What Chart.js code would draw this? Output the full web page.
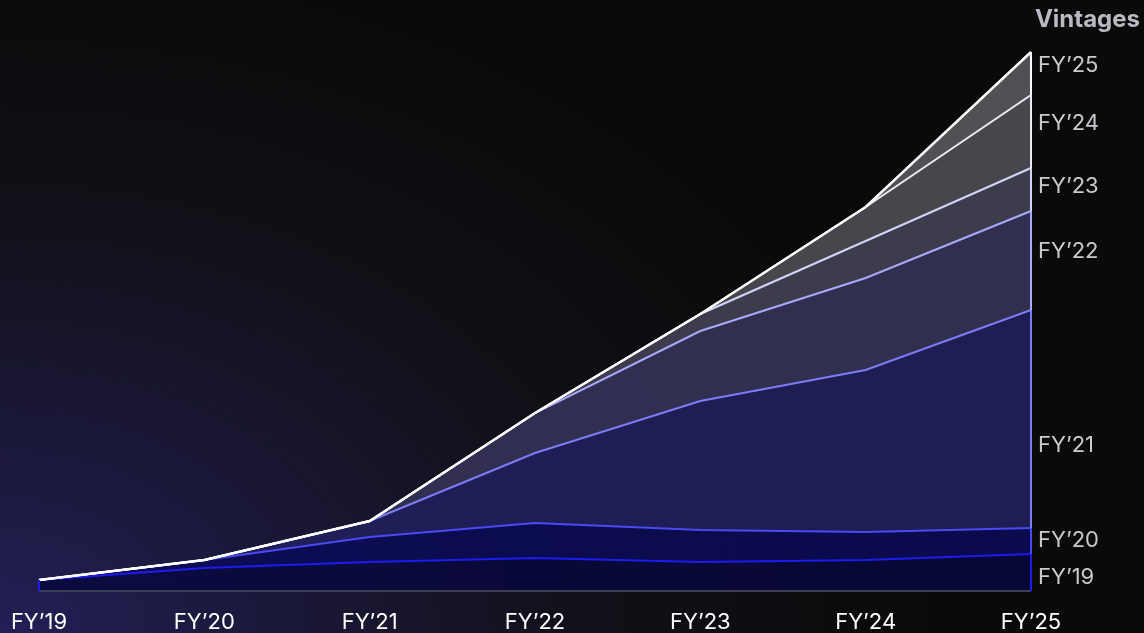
<!DOCTYPE html>
<html>
<head>
<meta charset="utf-8">
<script src="https://cdn.jsdelivr.net/npm/chart.js@4.4.1/dist/chart.umd.min.js"></script>
<style>
  html, body { margin: 0; padding: 0; width: 1144px; height: 633px; overflow: hidden; background: #0a0a0a; }
  body {
    background:
      radial-gradient(ellipse 950px 680px at 0% 100%, #231f56 0%, #1a1838 30%, #111018 62%, #0a0a0a 100%);
  }
  #wrap { position: relative; width: 1144px; height: 633px; }
</style>
</head>
<body>
<div id="wrap"><canvas id="c" width="1144" height="633"></canvas></div>
<script>
// Fiscal years on the x axis
const years = ["FY’19", "FY’20", "FY’21", "FY’22", "FY’23", "FY’24", "FY’25"];

// Revenue contributed by each customer vintage, per fiscal year
const vintageFY19 = [1.1, 2.3, 2.9, 3.3, 2.9, 3.1, 3.7];
const vintageFY20 = [0, 0.8, 2.5, 3.5, 3.2, 2.8, 2.6];
const vintageFY21 = [0, 0, 1.6, 7.0, 12.9, 16.2, 21.8];
const vintageFY22 = [0, 0, 0, 4.0, 7.0, 9.2, 9.9];
const vintageFY23 = [0, 0, 0, 0, 1.7, 3.7, 4.3];
const vintageFY24 = [0, 0, 0, 0, 0, 3.4, 7.3];
const vintageFY25 = [0, 0, 0, 0, 0, 0, 4.3];

// Vintage names, oldest (bottom layer) first
const vintageNames = ["FY’19", "FY’20", "FY’21", "FY’22", "FY’23", "FY’24", "FY’25"];
const vintages = [vintageFY19, vintageFY20, vintageFY21, vintageFY22, vintageFY23, vintageFY24, vintageFY25];

// Layer styling, oldest first
const lineColors = ["#1c1cf0", "#4a4af4", "#7c7cf6", "#a9a9fb", "#d4d4fa", "#ebebf4", "#ffffff"];
const lineWidths = [2, 2, 2, 2, 2, 2, 2.5];
const fillColors = [
  "rgba(8, 8, 62, 0.85)",
  "rgba(10, 10, 88, 0.85)",
  "rgba(32, 31, 92, 0.9)",
  "rgba(52, 49, 84, 0.95)",
  "rgba(62, 62, 78, 0.97)",
  "rgba(72, 72, 78, 0.97)",
  "rgba(84, 84, 88, 0.97)"
];
// Small vertical adjustments of the right-hand labels (px)
const labelNudge = [3, -2, 24.5, -10.5, -4.5, -10, -10];

// Running totals so each layer sits on the ones below it
const cumulative = [];
vintages.forEach((v, i) => {
  cumulative.push(v.map((val, j) => val + (i > 0 ? cumulative[i - 1][j] : 0)));
});

// Newest layer first, so the newest line is painted last (on top)
const datasets = [];
for (let i = vintages.length - 1; i >= 0; i--) {
  datasets.push({
    label: vintageNames[i],
    data: cumulative[i],
    borderColor: lineColors[i],
    backgroundColor: fillColors[i],
    borderWidth: lineWidths[i],
    pointRadius: 0,
    tension: 0,
    fill: i === 0 ? "origin" : "+1"
  });
}

const FONT = "Inter, 'DejaVu Sans', sans-serif";

const layerEdges = {
  id: "layerEdges",
  afterDatasetsDraw(chart) {
    const ctx = chart.ctx;
    const y = chart.scales.y;
    const n = vintages.length;
    const base = y.getPixelForValue(0);
    const metaFor = k => chart.getDatasetMeta(n - 1 - k); // k = 0 is oldest
    const last = years.length - 1;
    ctx.save();
    // Baseline
    ctx.lineWidth = 2;
    ctx.strokeStyle = "#3d3d55";
    ctx.beginPath();
    ctx.moveTo(chart.chartArea.left, base);
    ctx.lineTo(chart.chartArea.right, base);
    ctx.stroke();
    for (let k = 0; k < n; k++) {
      const p = metaFor(k).data[last];
      const lower = k === 0 ? base : metaFor(k - 1).data[last].y;
      ctx.strokeStyle = lineColors[k];
      ctx.lineWidth = 2;
      ctx.beginPath();
      ctx.moveTo(p.x, p.y);
      ctx.lineTo(p.x, lower);
      ctx.stroke();
      if (k === 0) {
        const p0 = metaFor(0).data[0];
        ctx.beginPath();
        ctx.moveTo(p0.x, p0.y);
        ctx.lineTo(p0.x, base);
        ctx.stroke();
      }
      // Vintage label beside its layer
      ctx.fillStyle = "#c9c9ce";
      ctx.font = "22px " + FONT;
      ctx.textAlign = "left";
      ctx.textBaseline = "alphabetic";
      ctx.fillText(vintageNames[k], p.x + 7, (p.y + lower) / 2 + labelNudge[k] + 8);
    }
    // Legend title
    ctx.fillStyle = "#b9b9c1";
    ctx.font = "bold 24px " + FONT;
    ctx.textAlign = "right";
    ctx.fillText("Vintages", chart.width - 4, 27);
    ctx.restore();
  }
};

new Chart(document.getElementById("c"), {
  type: "line",
  data: { labels: years, datasets },
  options: {
    responsive: false,
    animation: false,
    layout: { padding: { left: 39, right: 113, top: 31, bottom: 0 } },
    plugins: {
      legend: { display: false },
      tooltip: { enabled: false },
      filler: { drawTime: "beforeDatasetsDraw" }
    },
    scales: {
      x: {
        offset: false,
        grid: { display: false, drawTicks: false },
        border: { display: false },
        ticks: { color: "#ffffff", font: { family: FONT, size: 22 }, padding: 18, maxRotation: 0, autoSkip: false },
        afterFit: s => { s.height = 42; s.paddingLeft = 0; s.paddingRight = 0; }
      },
      y: { display: false, min: 0, max: 56 }
    }
  },
  plugins: [layerEdges]
});
</script>
</body>
</html>
